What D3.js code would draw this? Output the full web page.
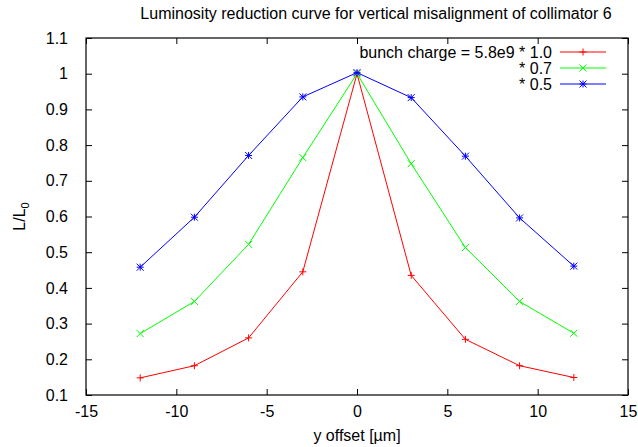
<!DOCTYPE html>
<html>
<head>
<meta charset="utf-8">
<script src="https://cdn.jsdelivr.net/npm/d3@7"></script>
<style>
  body { margin: 0; background: #fff; }
  svg text { font-family: "Liberation Sans", Arial, sans-serif; font-size: 16px; fill: #000; }
</style>
</head>
<body>
<div id="chart"></div>
<script>
"use strict";

const offsets = [-12, -9, -6, -3, 0, 3, 6, 9, 12];
const red = [0.148, 0.182, 0.26, 0.445, 1.0, 0.435, 0.256, 0.182, 0.149];
const green = [0.272, 0.362, 0.522, 0.765, 1.0, 0.748, 0.513, 0.362, 0.273];
const blue = [0.458, 0.598, 0.771, 0.935, 1.003, 0.933, 0.769, 0.596, 0.461];
const seriesNames = ["bunch charge = 5.8e9 * 1.0", "* 0.7", "* 0.5"];
const xTicks = [-15, -10, -5, 0, 5, 10, 15];
const yTicks = [0.1, 0.2, 0.3, 0.4, 0.5, 0.6, 0.7, 0.8, 0.9, 1, 1.1];

function DrawChart() {
  const width = 638,
    height = 447;
  const margin = { top: 38, right: 10, bottom: 52, left: 86 };

  const svg = d3
    .select("#chart")
    .append("svg")
    .attr("width", width)
    .attr("height", height);

  const x = d3.scaleLinear().domain([-15, 15]).range([margin.left, width - margin.right]);
  const y = d3.scaleLinear().domain([0.1, 1.1]).range([height - margin.bottom, margin.top]);

  const tickLen = 6;
  const fmtY = (d) => (d === 1 ? "1" : d3.format(".1f")(d));
  const fmtX = (d) => String(d); // plain hyphen like gnuplot

  // axes, gnuplot style ticks pointing inward and mirrored
  svg
    .append("g")
    .attr("transform", "translate(0," + y.range()[0] + ")")
    .call(d3.axisBottom(x).tickValues(xTicks).tickSize(-tickLen).tickPadding(11).tickFormat(fmtX))
    .call((g) => g.select(".domain").remove());
  svg
    .append("g")
    .attr("transform", "translate(0," + y.range()[1] + ")")
    .call(d3.axisTop(x).tickValues(xTicks).tickSize(-tickLen).tickFormat(""))
    .call((g) => g.select(".domain").remove());
  svg
    .append("g")
    .attr("transform", "translate(" + x.range()[0] + ",0)")
    .call(d3.axisLeft(y).tickValues(yTicks).tickSize(-tickLen).tickPadding(18).tickFormat(fmtY))
    .call((g) => g.select(".domain").remove());
  svg
    .append("g")
    .attr("transform", "translate(" + x.range()[1] + ",0)")
    .call(d3.axisRight(y).tickValues(yTicks).tickSize(-tickLen).tickFormat(""))
    .call((g) => g.select(".domain").remove());

  svg.selectAll(".tick text").style("font-size", "16px").style("font-family", "Liberation Sans, Arial, sans-serif");
  svg.selectAll(".tick line").attr("stroke", "#000");

  svg
    .append("rect")
    .attr("x", x.range()[0])
    .attr("y", y.range()[1])
    .attr("width", x.range()[1] - x.range()[0])
    .attr("height", y.range()[0] - y.range()[1])
    .attr("fill", "none")
    .attr("stroke", "#000")
    .attr("stroke-width", 1.2);

  // titles
  svg
    .append("text")
    .attr("x", 376)
    .attr("y", 19)
    .attr("text-anchor", "middle")
    .text("Luminosity reduction curve for vertical misalignment of collimator 6");

  svg
    .append("text")
    .attr("x", x(0))
    .attr("y", 441)
    .attr("text-anchor", "middle")
    .text("y offset [\u00b5m]");

  const yl = svg
    .append("text")
    .attr("transform", "translate(25," + y(0.6) + ") rotate(-90)")
    .attr("text-anchor", "middle");
  yl.append("tspan").text("L/L");
  yl.append("tspan").attr("dy", 4).style("font-size", "11px").text("0");

  const series = [
    { name: seriesNames[0], values: red, color: "#ff0000", marker: "plus" },
    { name: seriesNames[1], values: green, color: "#00ff00", marker: "cross" },
    { name: seriesNames[2], values: blue, color: "#0000ff", marker: "star" },
  ];

  const line = d3
    .line()
    .x((d, i) => x(offsets[i]))
    .y((d) => y(d));

  const ms = 3.5;
  function drawMarker(g, cx, cy, type, color) {
    const p = d3.path();
    if (type === "plus" || type === "star") {
      p.moveTo(cx - ms, cy);
      p.lineTo(cx + ms, cy);
      p.moveTo(cx, cy - ms);
      p.lineTo(cx, cy + ms);
    }
    if (type === "cross" || type === "star") {
      p.moveTo(cx - ms, cy - ms);
      p.lineTo(cx + ms, cy + ms);
      p.moveTo(cx - ms, cy + ms);
      p.lineTo(cx + ms, cy - ms);
    }
    g.append("path").attr("d", p.toString()).attr("stroke", color).attr("stroke-width", 1).attr("fill", "none");
  }

  series.forEach((s, k) => {
    const g = svg.append("g");
    g.append("path")
      .datum(s.values)
      .attr("d", line)
      .attr("fill", "none")
      .attr("stroke", s.color)
      .attr("stroke-width", 1);
    s.values.forEach((v, i) => drawMarker(g, x(offsets[i]), y(v), s.marker, s.color));

    // legend
    const ly = 52 + k * 16;
    svg
      .append("text")
      .attr("x", 552)
      .attr("y", ly + 6)
      .attr("text-anchor", "end")
      .text(s.name);
    g.append("line")
      .attr("x1", 560)
      .attr("x2", 606)
      .attr("y1", ly)
      .attr("y2", ly)
      .attr("stroke", s.color)
      .attr("stroke-width", 1);
    drawMarker(g, 583, ly, s.marker, s.color);
  });
}

DrawChart();
</script>
</body>
</html>
